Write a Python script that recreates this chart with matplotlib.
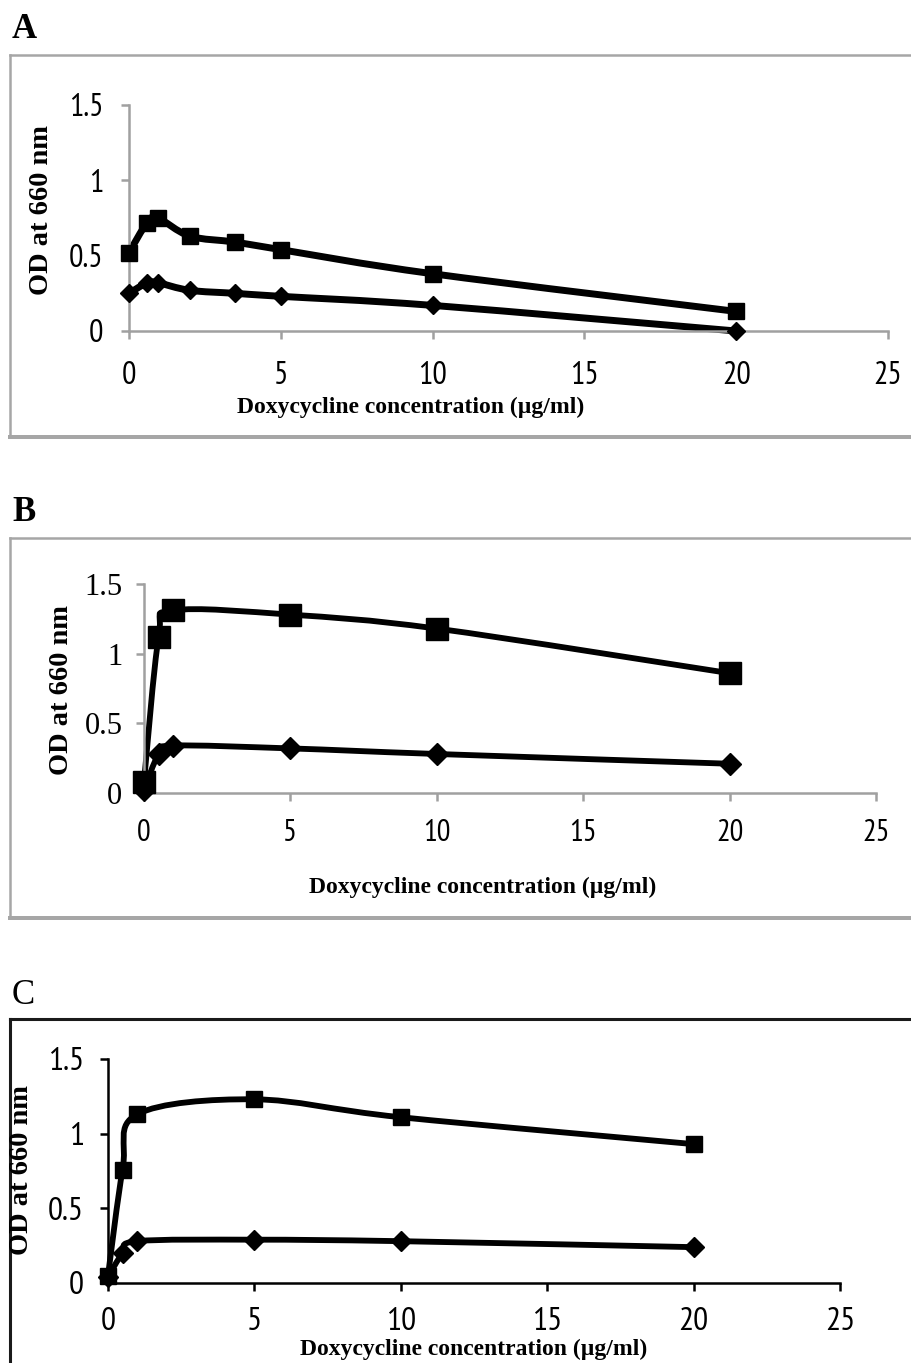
import numpy as np
import matplotlib.pyplot as plt
from matplotlib.path import Path
from matplotlib.patches import PathPatch
from matplotlib.lines import Line2D
from matplotlib import font_manager
from matplotlib.font_manager import FontProperties

# ---- data ----
x_a = [0, 0.6, 0.95, 2, 3.5, 5, 10, 20]
sq_a = [0.52, 0.72, 0.75, 0.63, 0.59, 0.54, 0.38, 0.13]
di_a = [0.25, 0.32, 0.32, 0.27, 0.25, 0.23, 0.17, 0.0]

x_b = [0, 0.5, 1, 5, 10, 20]
sq_b = [0.08, 1.12, 1.31, 1.28, 1.18, 0.86]
di_b = [0.02, 0.28, 0.34, 0.32, 0.28, 0.21]

x_c = [0, 0.5, 1, 5, 10, 20]
sq_c = [0.05, 0.76, 1.13, 1.23, 1.11, 0.93]
di_c = [0.04, 0.20, 0.28, 0.29, 0.28, 0.24]

x_ticks = [0, 5, 10, 15, 20, 25]
y_ticks = [0, 0.5, 1, 1.5]
y_ticklabels = ['0', '0.5', '1', '1.5']
xlabel = 'Doxycycline concentration (\u00b5g/ml)'
ylabel = 'OD at 660 nm'

W, H = 911, 1363
fig = plt.figure(figsize=(W / 100, H / 100), dpi=100)


def find_narrow():
    # look for a condensed sans face for the tick labels
    fl = font_manager.fontManager.ttflist
    for key in ['Narrow', 'Condensed']:
        for f in fl:
            if key.lower() in f.fname.lower() and 'sans' in f.fname.lower() \
                    and 'bold' not in f.fname.lower() and 'oblique' not in f.fname.lower() \
                    and 'italic' not in f.fname.lower():
                return f.fname
    return None


NARROW_FILE = find_narrow()


def tick_font(size, family=None):
    if family is None and NARROW_FILE:
        return FontProperties(fname=NARROW_FILE, size=size)
    return FontProperties(family=family or 'Liberation Sans', size=size)


def px_axes(x0, x1, y_top, y_bot):
    return fig.add_axes([x0 / W, 1 - y_bot / H, (x1 - x0) / W, (y_bot - y_top) / H])


def smooth_path(xs, ys):
    # Excel-like smoothed line: cubic Bezier through the points
    pts = np.column_stack([xs, ys]).astype(float)
    verts = [pts[0]]
    codes = [Path.MOVETO]
    n = len(pts)
    for i in range(n - 1):
        p0 = pts[i - 1] if i > 0 else pts[i]
        p1 = pts[i]
        p2 = pts[i + 1]
        p3 = pts[i + 2] if i + 2 < n else pts[i + 1]
        c1 = p1 + (p2 - p0) / 6.0
        c2 = p2 - (p3 - p1) / 6.0
        verts += [c1, c2, p2]
        codes += [Path.CURVE4] * 3
    return Path(verts, codes)


def draw_frame(top, bottom, color, lw):
    fig.add_artist(Line2D([10 / W, 1], [1 - top / H, 1 - top / H],
                          color=color, lw=lw, transform=fig.transFigure))
    fig.add_artist(Line2D([10 / W, 10 / W], [1 - top / H, 1 - bottom / H],
                          color=color, lw=lw, transform=fig.transFigure))
    if bottom < H:
        fig.add_artist(Line2D([10 / W, 1], [1 - bottom / H, 1 - bottom / H],
                              color=color, lw=lw * 1.6, transform=fig.transFigure))


def panel(ax, xs, sq, di, axis_color, sq_ms, di_ms, lw, ytick_family, ypad, xpad,
          tick_size):
    ax.set_xlim(0, 25)
    ax.set_ylim(0, 1.5)
    for s in ['top', 'right']:
        ax.spines[s].set_visible(False)
    for s in ['left', 'bottom']:
        ax.spines[s].set_color(axis_color)
        ax.spines[s].set_linewidth(1.8)
    ax.set_xticks(x_ticks)
    ax.set_yticks(y_ticks)
    ax.set_yticklabels(y_ticklabels)
    ax.tick_params(axis='both', direction='out', length=5.5, width=1.8, color=axis_color)
    ax.tick_params(axis='x', pad=xpad)
    ax.tick_params(axis='y', pad=ypad)
    for t in ax.get_xticklabels():
        t.set_fontproperties(tick_font(tick_size))
    for t in ax.get_yticklabels():
        t.set_fontproperties(tick_font(tick_size, ytick_family))

    for ys, mk, ms in [(sq, 's', sq_ms), (di, 'D', di_ms)]:
        ax.add_patch(PathPatch(smooth_path(xs, ys), fill=False, edgecolor='black',
                               lw=lw, capstyle='round', joinstyle='round',
                               clip_on=False))
        ax.plot(xs, ys, ls='none', marker=mk, ms=ms, color='black', clip_on=False,
                zorder=5)


serif_bold = dict(fontfamily='Liberation Serif', fontweight='bold')

# ---- Panel A ----
draw_frame(55, 437, '#a6a6a6', 1.8)
fig.text(12 / W, 1 - 30 / H, 'A', fontsize=25, va='center', ha='left', **serif_bold)
ax_a = px_axes(129, 888, 105, 331)
panel(ax_a, x_a, sq_a, di_a, '#a0a0a0', 12, 9, 5, None, 13, 16, 23)
fig.text(411 / W, 1 - 407 / H, xlabel, fontsize=17, ha='center', va='center',
         **serif_bold)
fig.text(42 / W, 1 - 210 / H, ylabel, fontsize=20.5, ha='center', va='center',
         rotation=90, **serif_bold)

# ---- Panel B ----
draw_frame(538, 918, '#a6a6a6', 1.8)
fig.text(12 / W, 1 - 512 / H, 'B', fontsize=25, va='center', ha='left', **serif_bold)
ax_b = px_axes(144, 876, 584, 793)
panel(ax_b, x_b, sq_b, di_b, '#a0a0a0', 15.5, 11, 4.2, 'Liberation Serif', 10, 13, 22)
fig.text(483 / W, 1 - 887 / H, xlabel, fontsize=17, ha='center', va='center',
         **serif_bold)
fig.text(62 / W, 1 - 690 / H, ylabel, fontsize=20.5, ha='center', va='center',
         rotation=90, **serif_bold)

# ---- Panel C ----
draw_frame(1019, H + 10, '#1a1a1a', 2.2)
fig.text(12 / W, 1 - 995 / H, 'C', fontsize=25, fontfamily='Liberation Serif',
         va='center', ha='left')
ax_c = px_axes(108, 840, 1059, 1283)
panel(ax_c, x_c, sq_c, di_c, 'black', 11.5, 10, 4.2, None, 12, 12, 24)
fig.text(474 / W, 1 - 1349 / H, xlabel, fontsize=17, ha='center', va='center',
         **serif_bold)
fig.text(22 / W, 1 - 1170 / H, ylabel, fontsize=20.5, ha='center', va='center',
         rotation=90, **serif_bold)

fig.savefig('out.png', dpi=100)
